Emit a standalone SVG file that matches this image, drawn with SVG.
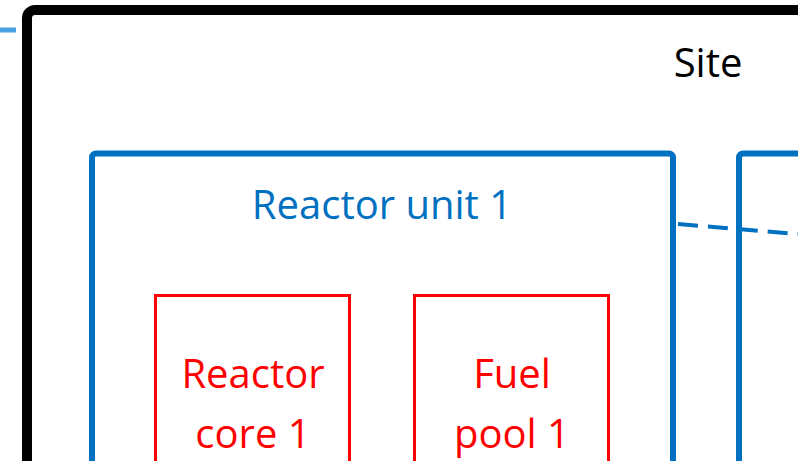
<svg xmlns="http://www.w3.org/2000/svg" width="798" height="461" viewBox="0 0 798 461">
<style>
text{font-family:"Open Sans","Noto Sans","Liberation Sans",sans-serif;}
.site{fill:none;stroke:#000;stroke-width:10;}
.unit{fill:none;stroke:#0070c0;stroke-width:6;}
.comp{fill:none;stroke:#ff0000;stroke-width:3;}
.red{fill:#ff0000;font-size:40px;text-anchor:middle;}
</style>
<rect width="798" height="461" fill="#fff"/>
<g id="connectors">
<line x1="0" y1="30" x2="16" y2="30" stroke="#4a9fe0" stroke-width="5"/>
<line x1="678" y1="224" x2="798" y2="234" stroke="#0070c0" stroke-width="4" stroke-dasharray="20,10"/>
</g>
<g id="site">
<rect class="site" x="27" y="10" width="820" height="500" rx="8"/>
<text x="708" y="77" font-size="40" text-anchor="middle" fill="#000">Site</text>
</g>
<g id="unit1">
<rect class="unit" x="92" y="153.5" width="581" height="400" rx="4"/>
<text x="382" y="219" font-size="40" text-anchor="middle" fill="#0070c0">Reactor unit 1</text>
</g>
<g id="unit2">
<rect class="unit" x="739" y="153.5" width="200" height="400" rx="4"/>
</g>
<g id="core1">
<rect class="comp" x="155.5" y="295.5" width="194" height="200"/>
<text class="red" x="253" y="388">Reactor</text>
<text class="red" x="253" y="448">core 1</text>
</g>
<g id="pool1">
<rect class="comp" x="414.5" y="295.5" width="194" height="200"/>
<text class="red" x="512" y="388">Fuel</text>
<text class="red" x="512" y="448">pool 1</text>
</g>
</svg>
